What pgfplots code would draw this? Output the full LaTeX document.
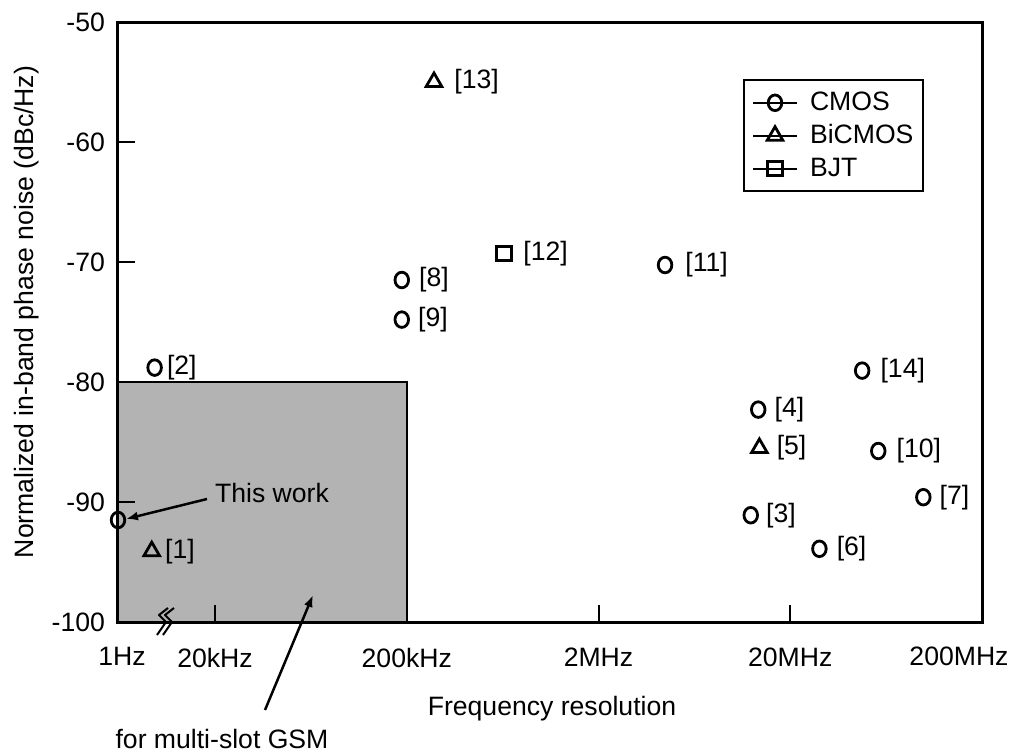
\documentclass[border=0pt]{standalone}
\usepackage{fontspec}
\setmainfont{Liberation Sans}
\usepackage{pgfplots}
\usepackage{pgfplotstable}
\pgfplotsset{compat=1.18}
\usetikzlibrary{arrows.meta}

\definecolor{boxgray}{RGB}{179,179,179}

% x is measured in decades: 0 = 20kHz, 1 = 200kHz, ..., 4 = 200MHz;
% the span left of 20kHz is a broken axis down to 1Hz.
% columns: x, phase noise (dBc/Hz), reference number, label gap (px)
\pgfplotstableread{
x      y       ref dx
-0.315 -78.8   2   11
0.974  -71.5   8   16
0.974  -74.8   9   15
2.347  -70.25  11  19
3.375  -79.05  14  17
2.833  -82.3   4   15
3.459  -85.75  10  17
3.694  -89.6   7   15
2.794  -91.1   3   14
3.152  -93.9   6   16
}\cmos

\pgfplotstableread{
x      y       ref dx
-0.330 -94.1   1   12
1.142  -55.0   13  19
2.839  -85.5   5   16
}\bicmos

\pgfplotstableread{
x      y       ref dx
1.507  -69.3   12  18
}\bjt

\pgfplotstableread{
x      y
-0.506 -91.5
}\thiswork

\newcommand\lblfont{\fontsize{13.3}{16}\selectfont}

\begin{document}
\begin{tikzpicture}[font=\lblfont]
\begin{axis}[
  name=ax, at={(0,0)}, anchor=south west,
  scale only axis, width=432pt, height=300pt,
  xmin=-0.506, xmax=4, ymin=-100, ymax=-50,
  clip=false, axis on top,
  axis line style={line width=1.5pt},
  every tick/.style={black, line width=1pt},
  tick align=inside, major tick length=8.5pt,
  xtick={0,1,2,3}, xticklabels={20kHz,200kHz,2MHz,20MHz},
  ytick={-100,-90,-80,-70,-60,-50},
  yticklabels={-100,-90,-80,-70,-60,-50},
  xtick pos=bottom, ytick pos=left,
  xticklabel style={yshift=-9.5pt, font=\lblfont},
  yticklabel style={xshift=-3pt, font=\lblfont},
  legend style={at={(0.7234,0.905)}, anchor=north west,
    draw=black, line width=1pt, fill=white, font=\lblfont,
    inner xsep=4pt, inner ysep=5pt, row sep=3.5pt,
    nodes={inner sep=1pt},
    /tikz/every odd column/.append style={column sep=5pt}},
  legend cell align=left,
  legend image code/.code={
    \draw[line width=1pt] (0pt,0pt) -- (22pt,0pt);
    \draw[#1, every mark/.append style={fill=white}] plot coordinates {(11pt,0pt)};
  },
  nodes near coords style={anchor=west, inner sep=0pt, font=\lblfont, xshift=\dx*0.5pt},
]

% GSM multi-slot region
\addplot[draw=black, fill=boxgray, line width=1.2pt, forget plot]
  coordinates {(-0.506,-100) (-0.506,-80) (1,-80) (1,-100)} -- cycle;

\addplot[only marks, black, mark=o, mark size=3.9pt, line width=1.4pt,
  mark options={xscale=0.87},
  point meta=explicit symbolic, nodes near coords={[\pgfplotspointmeta]},
  visualization depends on={\thisrow{dx} \as \dx}]
  table[x=x, y=y, meta=ref] {\cmos};
\addlegendentry{CMOS}

\addplot[only marks, black, mark=triangle, mark size=4.5pt, line width=1.4pt,
  point meta=explicit symbolic, nodes near coords={[\pgfplotspointmeta]},
  visualization depends on={\thisrow{dx} \as \dx}]
  table[x=x, y=y, meta=ref] {\bicmos};
\addlegendentry{BiCMOS}

\addplot[only marks, black, mark=square, mark size=3.6pt, line width=1.4pt,
  point meta=explicit symbolic, nodes near coords={[\pgfplotspointmeta]},
  visualization depends on={\thisrow{dx} \as \dx}]
  table[x=x, y=y, meta=ref] {\bjt};
\addlegendentry{BJT}

\addplot[only marks, black, mark=o, mark size=3.9pt, line width=1.4pt,
  mark options={xscale=0.87}, forget plot]
  table[x=x, y=y] {\thiswork};
\end{axis}

% annotations, in pixel units of the page (origin top left)
\begin{scope}[x=0.5pt, y=-0.5pt, shift={(-59pt,311pt)}]
  \node[anchor=base] at (122,665) {1Hz};
  \node[anchor=base] at (959,665) {200MHz};
  \node[anchor=base] at (552,715) {Frequency resolution};
  \node[rotate=90] at (27,312) {Normalized in-band phase noise (dBc/Hz)};
  \node[anchor=base] at (272,502) {This work};
  \draw[line width=1.25pt, -{Latex[length=6pt,width=4.5pt]}] (207,499) -- (126,519);
  \node[anchor=base] at (222,748) {for multi-slot GSM};
  \draw[line width=1.25pt, -{Latex[length=6pt,width=4.5pt]}] (265,710) -- (313,595);
  % axis break marks
  \foreach \o in {0,6}{
    \draw[line width=1pt, line join=round]
      (168+\o,608) -- (159+\o,615) -- (166+\o,622) -- (157+\o,635);
  }
  \pgfresetboundingbox
  \useasboundingbox (0,0) rectangle (1013,751);
\end{scope}
\end{tikzpicture}
\end{document}
